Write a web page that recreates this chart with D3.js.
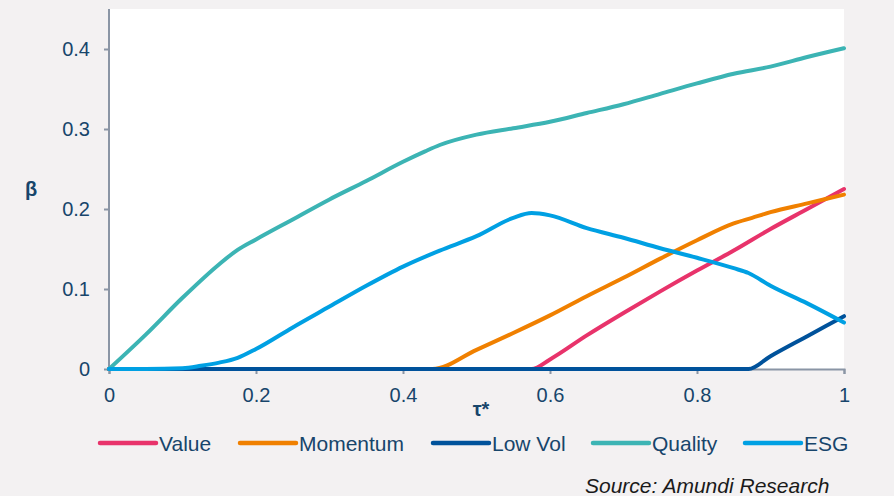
<!DOCTYPE html>
<html>
<head>
<meta charset="utf-8">
<script src="https://cdn.jsdelivr.net/npm/d3@7"></script>
<style>
  body { margin: 0; background: #f3f1f2; }
  svg { display: block; font-family: "Liberation Sans", Arial, sans-serif; }
</style>
</head>
<body>
<svg id="chart"></svg>
<script>
var width = 894; // Size of the picture
var height = 496;
var margin = { top: 9, right: 50, bottom: 127, left: 109 };

// Series names and colours, in legend order
var seriesNames = ["Value", "Momentum", "Low Vol", "Quality", "ESG"];
var seriesColors = ["#e8336b", "#f08000", "#00529b", "#3cb4b4", "#00a0e3"];

// tau* values and beta values
var valueT = [0, 0.575, 0.6, 0.65, 0.7, 0.75, 0.8, 0.85, 0.9, 0.95, 1];
var valueB = [0, 0, 0.012, 0.042, 0.07, 0.097, 0.123, 0.148, 0.175, 0.2, 0.225];

var momentumT = [0, 0.44, 0.5, 0.55, 0.6, 0.65, 0.7, 0.75, 0.8, 0.85, 0.875, 0.9, 0.95, 1];
var momentumB = [0, 0, 0.024, 0.045, 0.067, 0.091, 0.114, 0.138, 0.161, 0.182, 0.189, 0.196, 0.207, 0.218];

var lowVolT = [0, 0.87, 0.9, 0.95, 1];
var lowVolB = [0, 0, 0.016, 0.041, 0.066];

var qualityT = [0, 0.05, 0.1, 0.15, 0.175, 0.2, 0.25, 0.3, 0.35, 0.4, 0.43, 0.45, 0.5, 0.55, 0.6, 0.65, 0.7, 0.75, 0.8, 0.85, 0.9, 0.95, 1];
var qualityB = [0, 0.043, 0.089, 0.131, 0.149, 0.162, 0.187, 0.212, 0.235, 0.259, 0.272, 0.28, 0.293, 0.301, 0.309, 0.32, 0.331, 0.344, 0.357, 0.369, 0.378, 0.39, 0.401];

var esgT = [0, 0.05, 0.1, 0.125, 0.15, 0.175, 0.2, 0.25, 0.3, 0.35, 0.4, 0.45, 0.5, 0.55, 0.575, 0.6, 0.65, 0.7, 0.75, 0.8, 0.85, 0.87, 0.9, 0.95, 1];
var esgB = [0, 0, 0.001, 0.004, 0.008, 0.014, 0.025, 0.052, 0.078, 0.104, 0.128, 0.148, 0.166, 0.189, 0.195, 0.192, 0.176, 0.164, 0.151, 0.139, 0.126, 0.12, 0.104, 0.082, 0.058];

var xTicks = [0, 0.2, 0.4, 0.6, 0.8, 1];
var yTicks = [0, 0.1, 0.2, 0.3, 0.4];

var textColor = "#17456b";
var axisColor = "#8a95a5";

// Pair the x and y arrays up for each series
function makeSeries(ts, bs) {
    return ts.map(function (t, i) { return { t: t, b: bs[i] }; });
}
var allSeries = [
    makeSeries(valueT, valueB),
    makeSeries(momentumT, momentumB),
    makeSeries(lowVolT, lowVolB),
    makeSeries(qualityT, qualityB),
    makeSeries(esgT, esgB)
];

var svg = d3.select("#chart")
    .attr("width", width)
    .attr("height", height);

var x = d3.scaleLinear().domain([0, 1]).range([margin.left, width - margin.right - 0]);
var y = d3.scaleLinear().domain([0, 0.45]).range([height - margin.bottom - 0, margin.top]);

// White plot area
svg.append("rect")
    .attr("x", x(0))
    .attr("y", y(0.45))
    .attr("width", x(1) - x(0))
    .attr("height", y(0) - y(0.45))
    .attr("fill", "#ffffff");

// Axes
var xAxis = svg.append("g")
    .attr("transform", "translate(0," + y(0) + ")")
    .call(d3.axisBottom(x).tickValues(xTicks).tickSize(5).tickPadding(14)
        .tickFormat(function (d) { return d === 0 || d === 1 ? d : d.toFixed(1); }));

var yAxis = svg.append("g")
    .attr("transform", "translate(" + x(0) + ",0)")
    .call(d3.axisLeft(y).tickValues(yTicks).tickSize(5).tickPadding(14)
        .tickFormat(function (d) { return d === 0 ? "0" : d.toFixed(1); }));

yAxis.select(".domain").attr("d", "M0," + y(0.45) + "V" + y(0));

[xAxis, yAxis].forEach(function (g) {
    g.selectAll(".domain, line").attr("stroke", axisColor).attr("stroke-width", 2);
    g.selectAll("text")
        .attr("fill", textColor)
        .style("font-size", "20px")
        .style("font-family", "'Liberation Sans', Arial, sans-serif");
});

// Axis titles
svg.append("text")
    .attr("x", 481)
    .attr("y", 416)
    .attr("text-anchor", "middle")
    .attr("fill", textColor)
    .style("font-size", "20px")
    .style("font-weight", "bold")
    .text("τ*");

svg.append("text")
    .attr("x", 31)
    .attr("y", 196)
    .attr("text-anchor", "middle")
    .attr("fill", textColor)
    .style("font-size", "20px")
    .style("font-weight", "bold")
    .text("β");

// Lines
var line = d3.line()
    .x(function (d) { return x(d.t); })
    .y(function (d) { return y(d.b); })
    .curve(d3.curveMonotoneX);

svg.selectAll("path.series")
    .data(allSeries)
    .enter().append("path")
    .attr("class", "series")
    .attr("d", line)
    .attr("fill", "none")
    .attr("stroke", function (d, i) { return seriesColors[i]; })
    .attr("stroke-width", 4)
    .attr("stroke-linejoin", "round")
    .attr("stroke-linecap", "round");

// Legend
var legendX = [100, 240, 433, 593, 745];
var legend = svg.selectAll("g.legend")
    .data(seriesNames)
    .enter().append("g")
    .attr("class", "legend")
    .attr("transform", function (d, i) { return "translate(" + legendX[i] + ",443)"; });

legend.append("line")
    .attr("x1", 0).attr("x2", 56)
    .attr("stroke", function (d, i) { return seriesColors[i]; })
    .attr("stroke-width", 4.5)
    .attr("stroke-linecap", "round");

legend.append("text")
    .attr("x", 59)
    .attr("y", 8)
    .attr("fill", textColor)
    .style("font-size", "21px")
    .text(function (d) { return d; });

// Source note
svg.append("text")
    .attr("x", 585)
    .attr("y", 493)
    .attr("fill", "#1a1a1a")
    .style("font-size", "21px")
    .style("font-style", "italic")
    .text("Source: Amundi Research");
</script>
</body>
</html>
